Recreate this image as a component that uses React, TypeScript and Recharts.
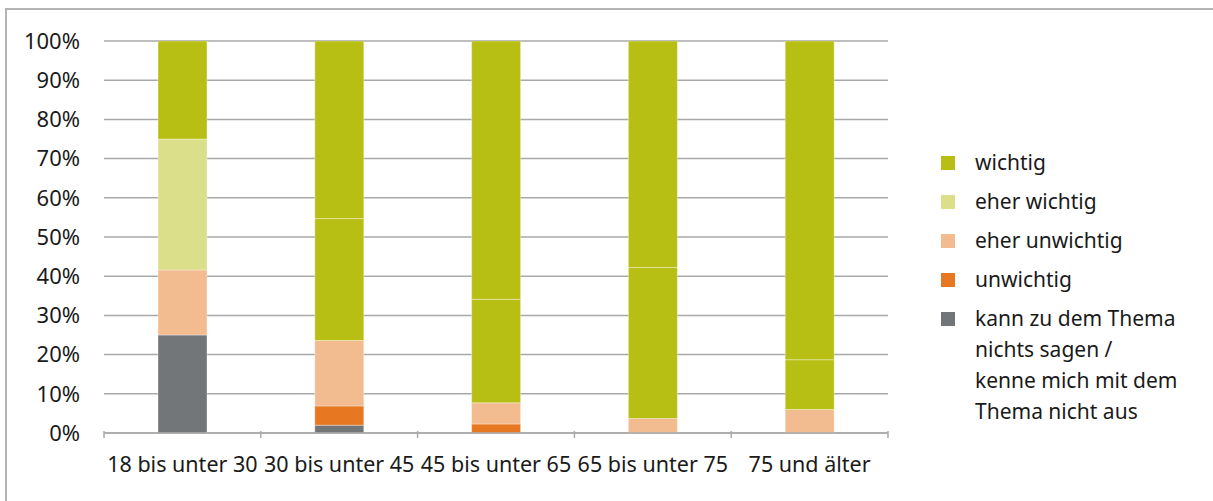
import React from "react";
import { BarChart, Bar, XAxis, YAxis, CartesianGrid, Cell } from "recharts";

const categories = ["18 bis unter 30", "30 bis unter 45", "45 bis unter 65", "65 bis unter 75", "75 und älter"];
const kannNicht = [25.0, 2.0, 0, 0, 0];
const unwichtig = [0, 4.9, 2.3, 0, 0];
const eherUnwichtig = [16.6, 16.7, 5.4, 3.7, 6.0];
const eherWichtig = [33.4, 31.1, 26.4, 38.5, 12.7];
const wichtig = [25.0, 45.3, 65.9, 57.8, 81.3];
const yTicks = [0, 10, 20, 30, 40, 50, 60, 70, 80, 90, 100];

const legendLabels = [
  "wichtig",
  "eher wichtig",
  "eher unwichtig",
  "unwichtig",
  "kann zu dem Thema\nnichts sagen /\nkenne mich mit dem\nThema nicht aus",
];

const C_W = "#b8bf14";
const C_EW = "#dbdf8a";
const C_EU = "#f3bb90";
const C_U = "#e87722";
const C_K = "#737679";
const legendColors = [C_W, C_EW, C_EU, C_U, C_K];
// the source chart draws "eher wichtig" in the dark green for all but the first group
const eherWichtigColors = [C_EW, C_W, C_W, C_W, C_W];

const data = categories.map((c, i) => ({
  cat: c,
  k: kannNicht[i],
  u: unwichtig[i],
  eu: eherUnwichtig[i],
  ew: eherWichtig[i],
  w: wichtig[i],
}));

const FONT = "'Noto Sans', sans-serif";
const GRID = "#a9a9a9";

const XTick = (props: any) => {
  const { x, y, payload, index } = props;
  const off = payload && payload.offset != null ? payload.offset : 78.4;
  const n = categories.length;
  return (
    <g>
      <line x1={x - off} x2={x - off} y1={y - 10} y2={y - 3} stroke={GRID} strokeWidth={1.5} />
      {index === n - 1 && (
        <line x1={x + off} x2={x + off} y1={y - 10} y2={y - 3} stroke={GRID} strokeWidth={1.5} />
      )}
      <text x={x} y={y + 31} textAnchor="middle" fontSize={21.5} fontFamily={FONT} fill="#1a1a1a">
        {payload.value}
      </text>
    </g>
  );
};

const stroke = { stroke: "#ffffff", strokeOpacity: 0.35, strokeWidth: 1 };

export default function App() {
  return (
    <div style={{ position: "fixed", left: 0, top: 0, width: 1213, height: 501, background: "#fff", overflow: "hidden" }}>
      <div
        style={{
          position: "absolute",
          left: 5,
          top: 8,
          width: 1300,
          height: 600,
          borderLeft: "2px solid #b3b3b3",
          borderTop: "2px solid #b3b3b3",
        }}
      />
      <div style={{ position: "absolute", left: 0, top: 0 }}>
        <BarChart
          width={900}
          height={501}
          data={data}
          margin={{ top: 41, right: 12, left: 10, bottom: 28 }}
          barSize={49}
        >
          <CartesianGrid horizontal vertical={false} stroke={GRID} strokeWidth={1.5} />
          <XAxis
            dataKey="cat"
            height={40}
            axisLine={{ stroke: GRID, strokeWidth: 1.5 }}
            tickLine={false}
            tick={<XTick />}
            interval={0}
          />
          <YAxis
            width={94}
            domain={[0, 100]}
            ticks={yTicks}
            allowDataOverflow
            axisLine={false}
            tickLine={false}
            tickSize={0}
            tickMargin={24}
            tickFormatter={(v: number) => `${v}%`}
            tick={{ fontSize: 22, fontFamily: FONT, fill: "#1a1a1a" }}
          />
          <Bar dataKey="k" stackId="a" fill={C_K} {...stroke} isAnimationActive={false} />
          <Bar dataKey="u" stackId="a" fill={C_U} {...stroke} isAnimationActive={false} />
          <Bar dataKey="eu" stackId="a" fill={C_EU} {...stroke} isAnimationActive={false} />
          <Bar dataKey="ew" stackId="a" fill={C_EW} {...stroke} isAnimationActive={false}>
            {data.map((d, i) => (
              <Cell key={d.cat} fill={eherWichtigColors[i]} />
            ))}
          </Bar>
          <Bar dataKey="w" stackId="a" fill={C_W} {...stroke} isAnimationActive={false} />
        </BarChart>
      </div>
      <div style={{ position: "absolute", left: 941, top: 147, width: 270, fontFamily: FONT, fontSize: 21, color: "#1a1a1a" }}>
        {legendLabels.map((l, i) => (
          <div key={l} style={{ display: "flex", alignItems: "flex-start", marginBottom: 8, lineHeight: "31px" }}>
            <div style={{ width: 14, height: 14, background: legendColors[i], marginTop: 9, flex: "0 0 14px" }} />
            <div style={{ marginLeft: 20, whiteSpace: "pre-line" }}>{l}</div>
          </div>
        ))}
      </div>
    </div>
  );
}
